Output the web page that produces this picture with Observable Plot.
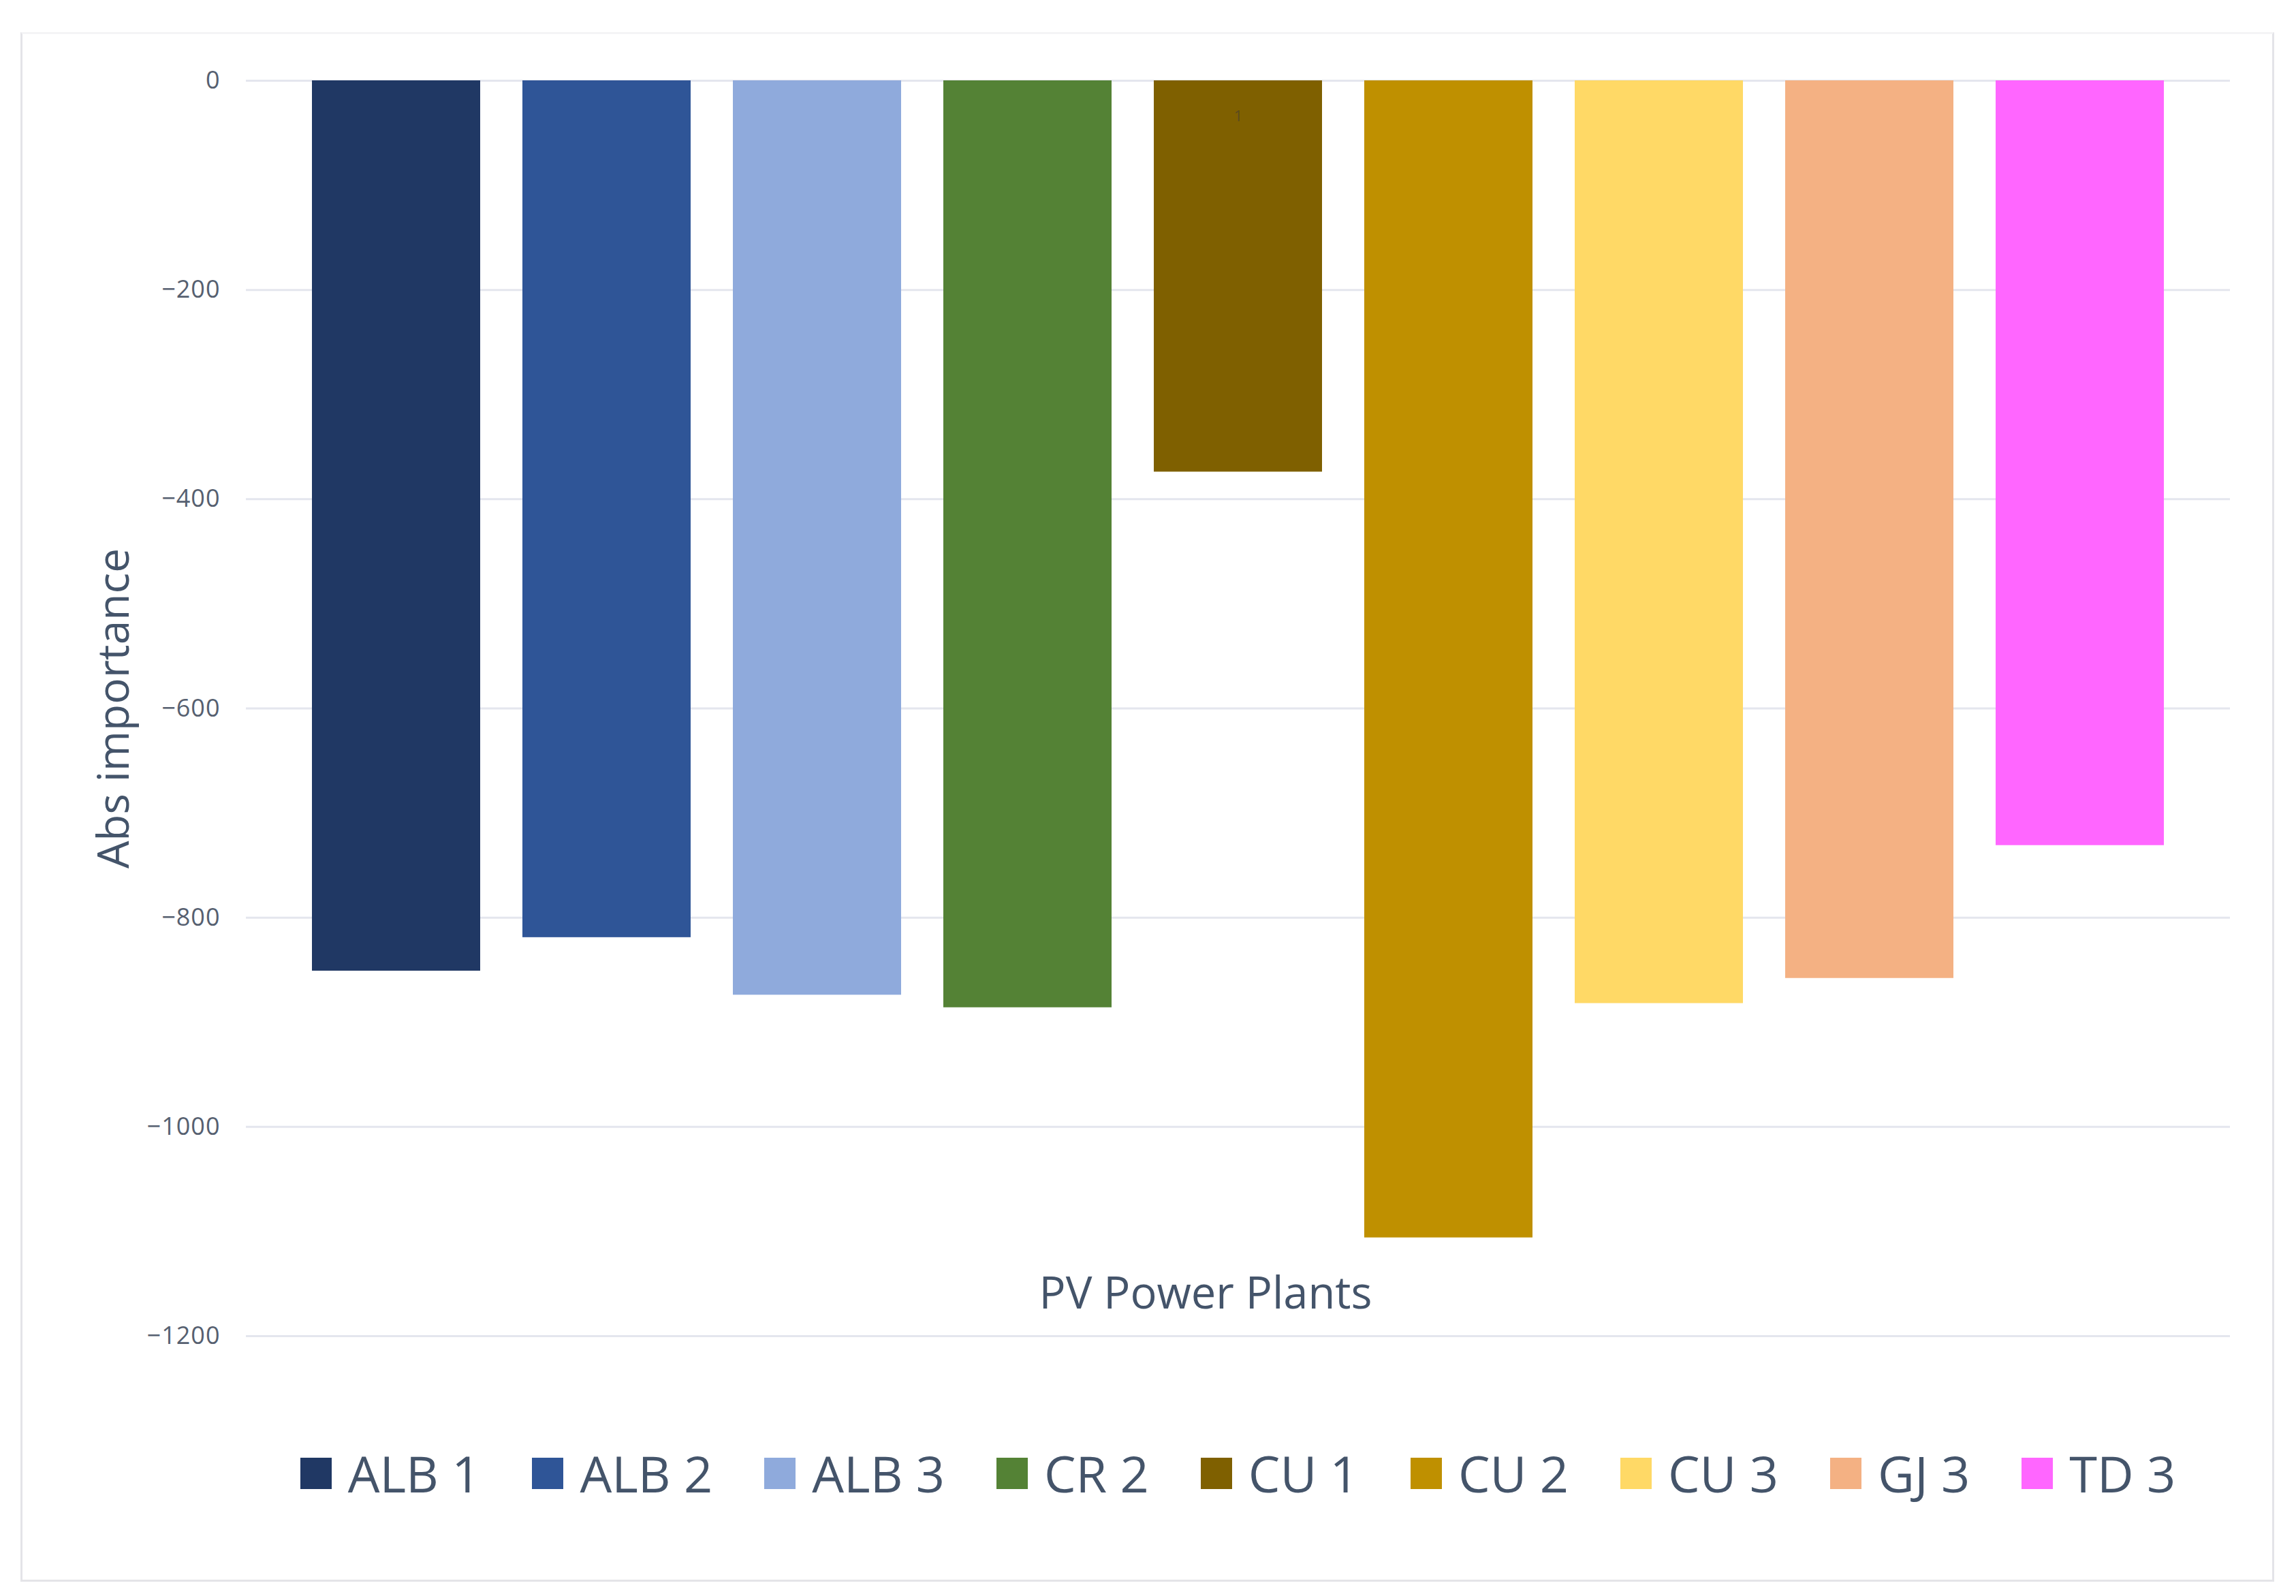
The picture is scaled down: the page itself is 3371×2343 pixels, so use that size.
<!DOCTYPE html>
<html>
<head>
<meta charset="utf-8">
<script src="https://cdn.jsdelivr.net/npm/d3@7"></script>
<script src="https://cdn.jsdelivr.net/npm/@observablehq/plot@0.6"></script>
<style>
  html, body { margin: 0; padding: 0; background: #ffffff; }
  #page { position: relative; width: 3371px; height: 2343px; background: #ffffff; font-family: "Open Sans", sans-serif; }
  #frame { position: absolute; left: 30px; top: 47px; width: 3303px; height: 2269px; border: 3px solid #e4e4e8; border-top-color: #f4f4f6; }
  #chart { position: absolute; left: 0; top: 0; }
  #legend { position: absolute; left: 361px; width: 2913px; top: 2126px; display: flex; justify-content: center; align-items: center; gap: 76px; }
  .item { display: flex; align-items: center; gap: 24px; font-size: 74px; color: #44546a; line-height: 1; }
  .sw { width: 46px; height: 46px; }
  g[aria-label="y-axis tick label"] text { letter-spacing: 1px; }
</style>
</head>
<body>
<div id="page">
  <div id="frame"></div>
  <div id="chart"></div>
  <div id="legend"></div>
</div>
<script>
const plants = ["ALB 1", "ALB 2", "ALB 3", "CR 2", "CU 1", "CU 2", "CU 3", "GJ 3", "TD 3"];
const importance = [-851, -819, -874, -886, -374, -1106, -882, -858, -731];
const colors = ["#203864", "#2F5597", "#8FAADC", "#548235", "#7F6000", "#BF9000", "#FFD966", "#F4B183", "#FF66FF"];
const yTicks = [0, -200, -400, -600, -800, -1000, -1200];
const yTitle = "Abs importance";
const xTitle = "PV Power Plants";
const noteLabel = ["1"];
const notePlant = ["CU 1"];
const noteValue = [-34];

const data = plants.map((p, i) => ({plant: p, value: importance[i]}));
const notes = noteLabel.map((t, i) => ({plant: notePlant[i], value: noteValue[i], text: t}));
const fmt = d => d === 0 ? "0" : "\u2212" + Math.abs(d);

const chart = Plot.plot({
  width: 3371,
  height: 2040,
  marginLeft: 361,
  marginRight: 97,
  marginTop: 118,
  marginBottom: 79,
  style: {fontFamily: "Open Sans, sans-serif", background: "transparent"},
  x: {domain: plants, paddingInner: 0.2, paddingOuter: 0.3, axis: null},
  y: {domain: [-1200, 0], ticks: yTicks, tickFormat: fmt, label: null},
  color: {domain: plants, range: colors},
  marks: [
    Plot.gridY(yTicks, {stroke: "#e4e6ee", strokeOpacity: 1, strokeWidth: 3}),
    Plot.axisY(yTicks, {tickSize: 0, tickPadding: 38, fontSize: 36, fill: "#566070", label: null, tickFormat: fmt}),
    Plot.barY(data, {x: "plant", y: "value", fill: "plant"}),
    Plot.text(notes, {x: "plant", y: "value", text: "text", fontSize: 22, fill: "#5a4a1e"}),
    Plot.text([yTitle], {frameAnchor: "left", textAnchor: "middle", lineAnchor: "middle", rotate: -90, dx: -193, fontSize: 64, fill: "#44546a"}),
    Plot.text([xTitle], {frameAnchor: "bottom", textAnchor: "middle", lineAnchor: "middle", dx: -48, dy: -61, fontSize: 65, fill: "#44546a"})
  ]
});
document.getElementById("chart").appendChild(chart);

const legend = document.getElementById("legend");
plants.forEach((p, i) => {
  const item = document.createElement("div");
  item.className = "item";
  const sw = document.createElement("div");
  sw.className = "sw";
  sw.style.background = colors[i];
  const lab = document.createElement("span");
  lab.textContent = p;
  item.appendChild(sw);
  item.appendChild(lab);
  legend.appendChild(item);
});
</script>
</body>
</html>
